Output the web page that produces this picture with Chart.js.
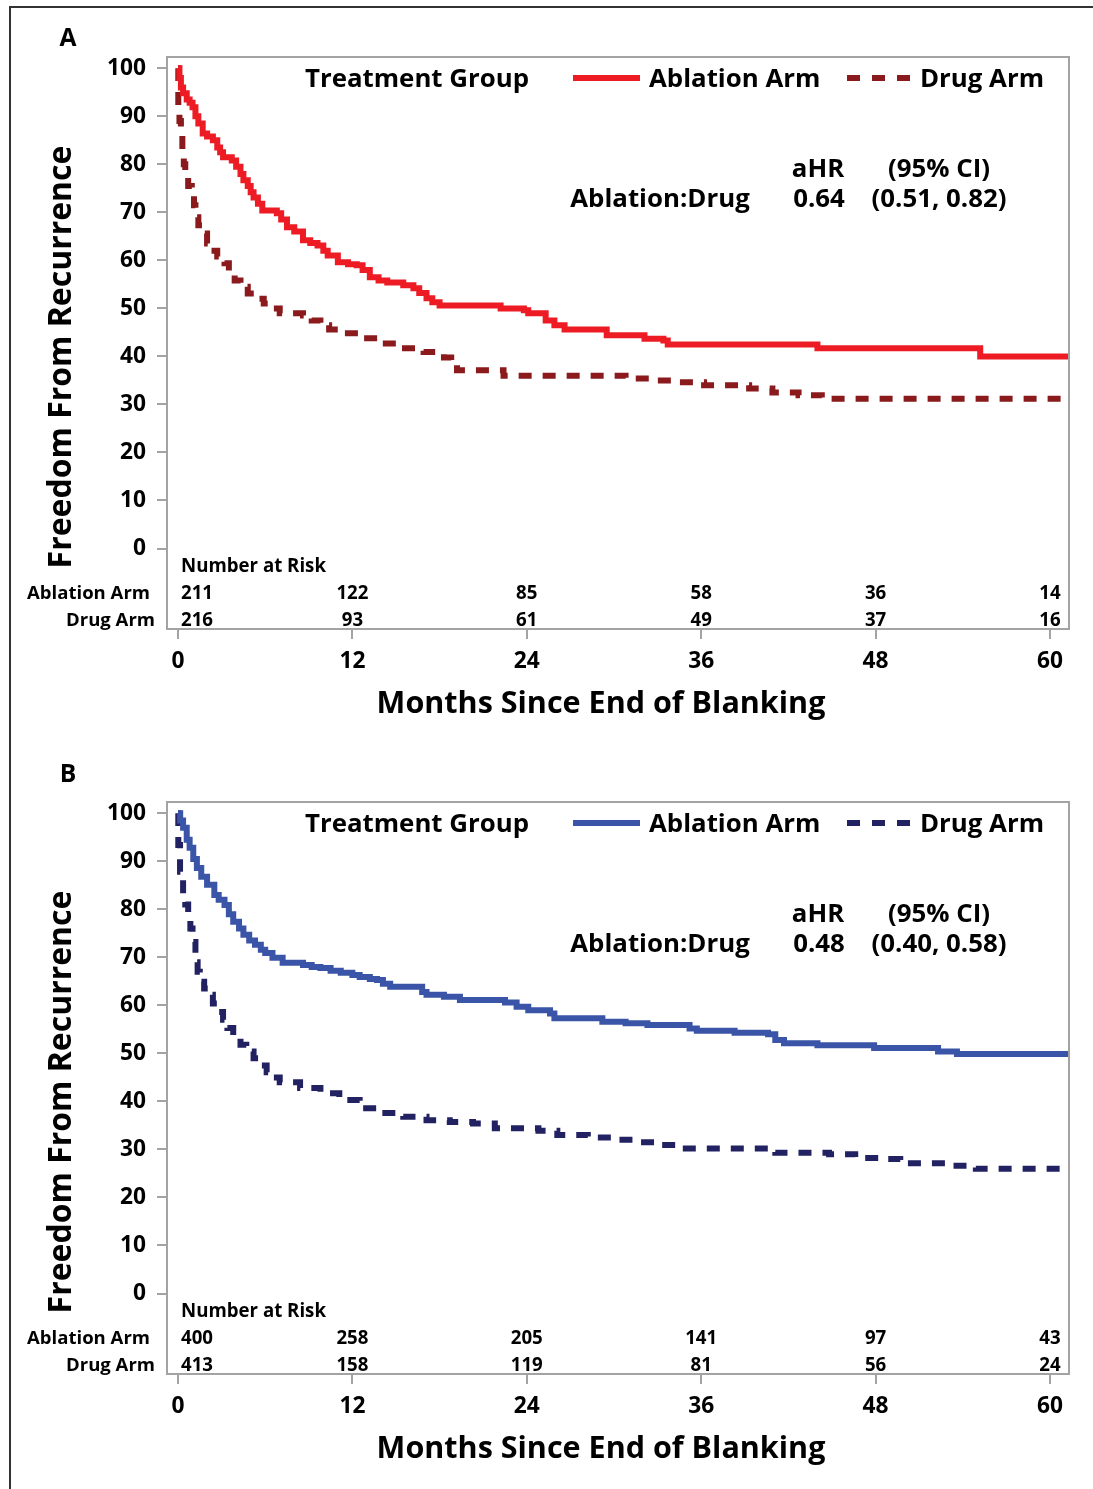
<!DOCTYPE html>
<html>
<head>
<meta charset="utf-8">
<script src="https://cdn.jsdelivr.net/npm/chart.js@4.4.0/dist/chart.umd.min.js"></script>
<style>
  html, body { margin: 0; padding: 0; background: #fff; }
  #wrap { position: relative; width: 1093px; height: 1489px; overflow: hidden; background: #fff; }
  #outer { position: absolute; left: 9px; top: 6px; width: 1200px; height: 1600px; border-top: 2px solid #333; border-left: 2px solid #333; }
  canvas { position: absolute; left: 0; }
  #cA { top: 0; }
  #cB { top: 745px; }
</style>
</head>
<body>
<div id="wrap">
  <div id="outer"></div>
  <canvas id="cA" width="1093" height="745"></canvas>
  <canvas id="cB" width="1093" height="744"></canvas>
</div>
<script>
// ---------------- DATA ----------------
const xTicks = [0, 12, 24, 36, 48, 60];
const yTicks = [0, 10, 20, 30, 40, 50, 60, 70, 80, 90, 100];
const riskTimes = [0, 12, 24, 36, 48, 60];

// Panel A
const monthsA_ablation = [0,0.1,0.2,0.35,0.6,0.8,1.0,1.2,1.4,1.7,2.0,2.4,2.7,2.9,3.1,3.7,4.0,4.3,4.5,4.8,5.0,5.2,5.5,5.8,6.8,7.1,7.5,8.0,8.6,9.1,9.6,10.0,10.3,11.0,11.7,12.3,12.7,13.2,13.8,14.4,15.5,16.2,16.6,17.1,17.5,18.0,22.2,23.8,24.1,25.3,25.9,26.6,29.5,32.1,33.4,33.7,44.0,55.2,61.3];
const survA_ablation = [100,98,96,94.8,93.5,92.8,91.9,90,88.5,86.4,85.8,85,83.5,82.5,81.5,80.8,79.5,78,76.7,75.5,74.2,73.1,71.8,70.4,69.8,68.5,66.9,66,64.2,63.6,63.1,62,61,59.6,59.2,59,58,56.5,55.8,55.4,54.8,54.2,53.2,52.1,51.3,50.6,50,49.6,49,47.5,46.5,45.6,44.4,43.7,43.3,42.5,41.7,40.0,40.0];
const monthsA_drug = [0,0.02,0.1,0.2,0.3,0.4,0.5,0.7,0.95,1.1,1.2,1.4,1.65,2.0,2.3,2.7,3.2,3.5,3.9,4.3,4.8,5.3,5.9,6.4,7.0,8.6,9.2,9.8,10.4,11.0,12.5,13.9,15.3,16.9,18.3,18.8,19.2,22.4,30.8,32.9,34.4,36.2,39.3,40.9,42.7,44.3,61.3];
const survA_drug = [100,92,89,86,83,80,77.3,75.5,74,71.5,69,67.3,65.6,63.5,62,60.8,59.4,57.6,55.8,54.5,53.1,52,51,50,49,48.5,47.5,46.5,45.6,44.8,43.8,42.7,41.7,40.9,39.8,38.5,37.1,36.0,35.4,35,34.6,34,33.3,32.5,31.9,31.2,31.2];
const riskA_ablation = [211, 122, 85, 58, 36, 14];
const riskA_drug = [216, 93, 61, 49, 37, 16];
const hrA = ['0.64', '(0.51, 0.82)'];

// Panel B
const monthsB_ablation = [0,0.15,0.35,0.6,0.8,1.05,1.3,1.6,2.0,2.5,2.8,3.2,3.5,3.8,4.2,4.5,4.9,5.3,5.7,6.0,6.5,7.2,8.6,9.2,9.8,10.5,11.2,12.0,12.5,13.2,13.7,14.1,14.6,16.8,17.1,18.3,19.4,22.5,23.3,24.1,25.6,25.9,29.2,30.8,32.3,35.2,35.7,38.3,40.6,41.1,41.7,44.0,47.9,52.3,53.6,61.3];
const survB_ablation = [100,98.5,97,94.5,92.8,90.5,88.6,86.8,85.1,83,82,80.9,79,77.4,76,74.7,73.5,72.6,71.6,70.9,69.9,68.9,68.4,68,67.8,67.2,66.8,66.3,65.9,65.5,65.3,64.5,63.9,62.8,62.2,61.8,61.1,60.6,59.7,59.0,58.3,57.3,56.6,56.3,55.9,55.2,54.7,54.3,54.0,52.8,52.1,51.7,51.1,50.4,49.9,49.9];
const monthsB_drug = [0,0.02,0.14,0.35,0.5,0.7,0.85,1.0,1.2,1.35,1.5,1.8,2.1,2.4,2.8,3.1,3.4,3.8,4.3,4.7,5.2,5.6,6.1,6.5,7.0,8.4,9.8,11.1,12.5,13.9,15.5,17.1,18.7,20.3,21.8,24.8,26.1,28.2,30.0,31.6,33.1,34.7,41.1,44.8,46.6,48.4,49.7,53.1,54.9,61.3];
const survB_drug = [100,93.4,87.8,83,81,78.8,76,73.2,69,67,64.9,63.5,62.2,60.4,58.6,57,55.3,53.5,51.8,50.4,49,47.5,46.1,45,44,42.8,41.7,40.3,38.6,37.6,36.8,36.1,35.7,35.4,34.4,33.9,33.0,32.5,32.0,31.5,30.9,30.2,29.3,29.0,28.2,28.0,27.1,26.6,26.0,26.0];
const riskB_ablation = [400, 258, 205, 141, 97, 43];
const riskB_drug = [413, 158, 119, 81, 56, 24];
const hrB = ['0.48', '(0.40, 0.58)'];

const seriesNames = ['Ablation Arm', 'Drug Arm'];

// ---------------- STYLE ----------------
const FAM = '"Open Sans", "DejaVu Sans", sans-serif';
const mctx = document.createElement('canvas').getContext('2d');
function fitSize(text, width) {
  mctx.font = '700 100px ' + FAM;
  return 100 * width / mctx.measureText(text).width;
}
const SZ = {
  tick: fitSize('100', 39),
  legend: fitSize('Treatment Group', 224),
  xTitle: fitSize('Months Since End of Blanking', 449),
  yTitle: fitSize('Freedom From Recurrence', 423),
  risk: fitSize('Number at Risk', 145),
  rowLabel: fitSize('Ablation Arm', 123),
  letter: fitSize('A', 17)
};
const FRAME = { left: 167, top: 57, right: 1069, bottom: 629 };
const GREY = '#a3a3a3';

function f(size) { return '700 ' + size.toFixed(2) + 'px ' + FAM; }

function makePanel(id, letter, letterY, months1, surv1, months2, surv2, risk1, risk2, hr, c1, c2) {
  const pts = (m, s) => m.map((t, i) => ({ x: t, y: s[i] }));
  const decor = {
    id: 'decor',
    afterDraw(chart) {
      const ctx = chart.ctx;
      const a = chart.chartArea;
      const xs = chart.scales.x;
      ctx.save();
      // frame
      ctx.strokeStyle = GREY; ctx.lineWidth = 2;
      ctx.strokeRect(a.left, a.top, a.right - a.left, a.bottom - a.top);
      ctx.fillStyle = '#000';
      ctx.textBaseline = 'middle';
      // panel letter
      ctx.font = f(SZ.letter); ctx.textAlign = 'center';
      ctx.fillText(letter, 68, letterY);
      // legend
      ctx.font = f(SZ.legend); ctx.textAlign = 'left';
      ctx.fillText('Treatment Group', 305, 80);
      ctx.fillText(seriesNames[0], 649, 80);
      ctx.fillText(seriesNames[1], 920, 80);
      ctx.lineWidth = 6; ctx.lineCap = 'butt';
      ctx.strokeStyle = c1; ctx.setLineDash([]);
      ctx.beginPath(); ctx.moveTo(573, 78); ctx.lineTo(640, 78); ctx.stroke();
      ctx.strokeStyle = c2; ctx.setLineDash([13, 12]);
      ctx.beginPath(); ctx.moveTo(847, 78); ctx.lineTo(910, 78); ctx.stroke();
      ctx.setLineDash([]);
      // hazard ratio block
      ctx.textAlign = 'center';
      ctx.fillText('aHR', 818, 170);
      ctx.fillText('(95% CI)', 939, 170);
      ctx.fillText('Ablation:Drug', 660, 200);
      ctx.fillText(hr[0], 819, 200);
      ctx.fillText(hr[1], 939, 200);
      // axis titles
      ctx.font = f(SZ.xTitle);
      ctx.fillText('Months Since End of Blanking', 601, 704);
      ctx.save();
      ctx.translate(62, 357); ctx.rotate(-Math.PI / 2);
      ctx.font = f(SZ.yTitle);
      ctx.fillText('Freedom From Recurrence', 0, 0);
      ctx.restore();
      // number at risk
      ctx.font = f(SZ.risk); ctx.textAlign = 'left';
      ctx.fillText('Number at Risk', 181, 567);
      ctx.font = f(SZ.rowLabel); ctx.textAlign = 'right';
      ctx.fillText(seriesNames[0], 150, 594);
      ctx.fillText(seriesNames[1], 155, 621);
      ctx.font = f(SZ.risk);
      riskTimes.forEach((t, i) => {
        const px = xs.getPixelForValue(t);
        ctx.textAlign = i === 0 ? 'left' : 'center';
        const x = i === 0 ? px + 3 : px;
        ctx.fillText(String(risk1[i]), x, 594);
        ctx.fillText(String(risk2[i]), x, 621);
      });
      ctx.restore();
    }
  };
  return new Chart(document.getElementById(id), {
    type: 'line',
    data: {
      datasets: [
        { label: seriesNames[0], data: pts(months1, surv1), borderColor: c1, borderWidth: 6,
          stepped: 'before', pointRadius: 0, fill: false, borderCapStyle: 'butt', borderJoinStyle: 'miter' },
        { label: seriesNames[1], data: pts(months2, surv2), borderColor: c2, borderWidth: 6,
          borderDash: [13, 11], stepped: 'before', pointRadius: 0, fill: false, borderCapStyle: 'butt', borderJoinStyle: 'miter' }
      ]
    },
    options: {
      responsive: false, animation: false, devicePixelRatio: 1,
      layout: { padding: { left: 0, top: FRAME.top, right: 1093 - FRAME.right, bottom: 0 } },
      plugins: { legend: { display: false }, tooltip: { enabled: false } },
      scales: {
        x: {
          type: 'linear', min: -0.757, max: 61.31,
          afterBuildTicks(s) { s.ticks = xTicks.map(v => ({ value: v })); },
          afterFit(s) { s.height = s.chart.height - FRAME.bottom; },
          grid: { drawOnChartArea: false, drawTicks: true, tickLength: 10, color: GREY, lineWidth: 2 },
          border: { display: false },
          ticks: { autoSkip: false, maxRotation: 0, padding: 9, color: '#000', font: { family: FAM, weight: '700', size: SZ.tick } }
        },
        y: {
          type: 'linear', min: -16.76, max: 102.35,
          afterBuildTicks(s) { s.ticks = yTicks.map(v => ({ value: v })); },
          afterFit(s) { s.width = FRAME.left; },
          grid: { drawOnChartArea: false, drawTicks: true, tickLength: 10, color: GREY, lineWidth: 2 },
          border: { display: false },
          ticks: { padding: 11, color: '#000', font: { family: FAM, weight: '700', size: SZ.tick } }
        }
      }
    },
    plugins: [decor]
  });
}

makePanel('cA', 'A', 39, monthsA_ablation, survA_ablation, monthsA_drug, survA_drug, riskA_ablation, riskA_drug, hrA, '#ED1C24', '#8B1A1D');
makePanel('cB', 'B', 30, monthsB_ablation, survB_ablation, monthsB_drug, survB_drug, riskB_ablation, riskB_drug, hrB, '#3A55A7', '#222262');
</script>
</body>
</html>
